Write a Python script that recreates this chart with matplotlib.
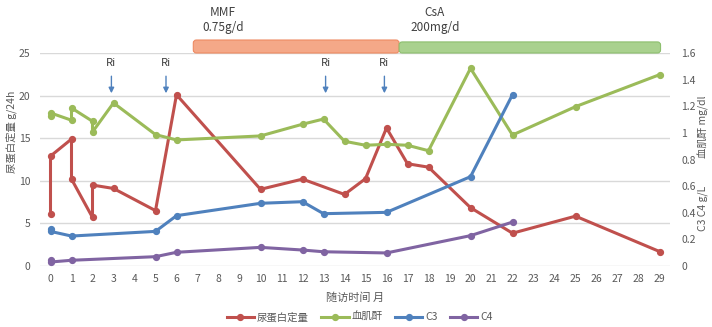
import matplotlib.pyplot as plt
import matplotlib.transforms as mtransforms
from matplotlib.patches import FancyBboxPatch


plt.rcParams["font.family"] = ["Noto Sans CJK SC", "DejaVu Sans"]
plt.rcParams["axes.unicode_minus"] = False

# 尿蛋白定量 (left axis, g/24h)
prot_x = [0, 0, 1, 1, 2, 2, 3, 5, 6, 10, 12, 14, 15, 16, 17, 18, 20, 22, 25, 29]
prot_y = [6.1, 12.9, 14.9, 10.2, 5.7, 9.5, 9.1, 6.5, 20.1, 9.0, 10.2, 8.4, 10.25, 16.2, 12.0, 11.6, 6.85, 3.85, 5.85, 1.7]

# 血肌酐 (right axis, mg/dl)
scr_x = [0, 0, 1, 1, 2, 2, 3, 5, 6, 10, 12, 13, 14, 15, 16, 17, 18, 20, 22, 25, 29]
scr_y = [1.13, 1.15, 1.095, 1.187, 1.087, 1.007, 1.225, 0.987, 0.947, 0.977, 1.065, 1.104,
         0.937, 0.907, 0.914, 0.907, 0.866, 1.485, 0.984, 1.197, 1.437]

# C3 / C4 (right axis, g/L)
c3_x = [0, 0, 1, 5, 6, 10, 12, 13, 16, 20, 22]
c3_y = [0.28, 0.26, 0.225, 0.26, 0.378, 0.471, 0.483, 0.393, 0.403, 0.671, 1.287]
c4_x = [0, 0, 1, 5, 6, 10, 12, 13, 16, 20, 22]
c4_y = [0.045, 0.03, 0.043, 0.07, 0.103, 0.14, 0.12, 0.107, 0.098, 0.228, 0.33]

ri_x = [2.9, 5.5, 13.1, 15.9]

drugs = ["MMF\n0.75g/d", "CsA\n200mg/d"]
drug_start = [6.8, 16.6]
drug_end = [16.6, 29.05]
drug_label_x = [8.2, 18.3]

RED = "#C0504D"
GREEN = "#9BBB59"
BLUE = "#4F81BD"
PURPLE = "#8064A2"
GREY = "#595959"

fig = plt.figure(figsize=(7.12, 3.27), dpi=100)
ax = fig.add_axes([40 / 712, 1 - 266 / 327, 630 / 712, 213 / 327])
ax2 = ax.twinx()

line_kw = dict(linewidth=2.2, marker="o", markersize=4.2)
l1, = ax.plot(prot_x, prot_y, color=RED, label="尿蛋白定量", zorder=3, **line_kw)
l2, = ax2.plot(scr_x, scr_y, color=GREEN, label="血肌酐", **line_kw)
l3, = ax2.plot(c3_x, c3_y, color=BLUE, label="C3", **line_kw)
l4, = ax2.plot(c4_x, c4_y, color=PURPLE, label="C4", **line_kw)

ax.set_xlim(-0.5, 29.5)
ax.set_ylim(0, 25)
ax2.set_ylim(0, 1.6)
ax.set_xticks(range(0, 30))
ax.set_yticks([0, 5, 10, 15, 20, 25])
ax2.set_yticks([0, 0.2, 0.4, 0.6, 0.8, 1.0, 1.2, 1.4, 1.6])
ax2.set_yticklabels(["0", "0.2", "0.4", "0.6", "0.8", "1", "1.2", "1.4", "1.6"])

ax.grid(axis="y", color="#D9D9D9", linewidth=1)
ax.set_axisbelow(True)
for a in (ax, ax2):
    for s in a.spines.values():
        s.set_visible(False)
    a.tick_params(length=0, labelsize=7.5, colors=GREY)
ax.tick_params(axis="x", pad=6)
ax.tick_params(axis="y", pad=7)
ax2.tick_params(axis="y", pad=8)

ax.set_xlabel("随访时间 月", fontsize=8, color=GREY, labelpad=6)
fig.text(11 / 712, 1 - 132 / 327, "尿蛋白定量 g/24h", rotation=90, fontsize=7.5,
         color=GREY, ha="center", va="center")
fig.text(703 / 712, 1 - 127 / 327, "血肌酐 mg/dl", rotation=90, fontsize=7.5,
         color=GREY, ha="center", va="center")
fig.text(703 / 712, 1 - 208 / 327, "C3 C4 g/L", rotation=90, fontsize=7.5,
         color=GREY, ha="center", va="center")

# Ri arrows
for xr in ri_x:
    ax.annotate("", xy=(xr, 19.95), xytext=(xr, 22.6),
                arrowprops=dict(arrowstyle="-|>", color=BLUE, lw=1, mutation_scale=8))
    ax.text(xr, 23.8, "Ri", ha="center", va="center", fontsize=8, color="#404040")

# treatment bars above the plot
trans = mtransforms.blended_transform_factory(ax.transData, ax.transAxes)
bar_style = [("#F4A888", "#EE8A62", 1.0, 1.061), ("#A9D18E", "#8DBF6E", 1.0, 1.052)]
for name, x0, x1, xl, (fc, ec, y0, y1) in zip(drugs, drug_start, drug_end, drug_label_x, bar_style):
    box = FancyBboxPatch((x0, y0), x1 - x0, y1 - y0,
                         boxstyle="round,pad=0,rounding_size=0.15", mutation_aspect=0.094,
                         transform=trans, facecolor=fc, edgecolor=ec, linewidth=0.8,
                         clip_on=False)
    ax.add_patch(box)
    ax.text(xl, 1.155, name, transform=trans, ha="center", va="center", fontsize=8.5,
            color="#404040", linespacing=1.25)

fig.legend(handles=[l1, l2, l3, l4], loc="center", bbox_to_anchor=(360 / 712, 1 - 317 / 327),
           ncol=4, frameon=False, fontsize=7.5, handlelength=2.6, columnspacing=1.2,
           handletextpad=0.3, labelcolor=GREY)

fig.savefig("out.png", dpi=100, facecolor="white")
